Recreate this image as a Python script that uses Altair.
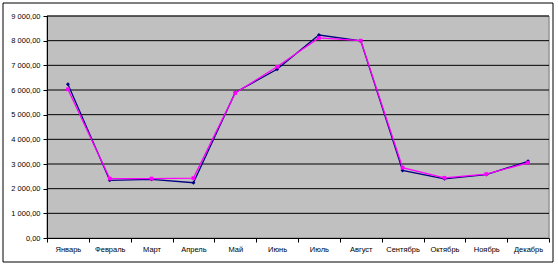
import altair as alt
import pandas as pd

months = ["Январь", "Февраль", "Март", "Апрель", "Май", "Июнь",
          "Июль", "Август", "Сентябрь", "Октябрь", "Ноябрь", "Декабрь"]
series_blue = [6230, 2340, 2380, 2240, 5900, 6840, 8230, 7990, 2740, 2400, 2570, 3110]
series_pink = [6030, 2410, 2410, 2430, 5880, 6940, 8110, 8000, 2850, 2440, 2590, 3050]
y_ticks = [0, 1000, 2000, 3000, 4000, 5000, 6000, 7000, 8000, 9000]

rows = []
for i, m in enumerate(months):
    rows.append({"pos": i + 0.5, "month": m, "series": "A", "value": series_blue[i]})
    rows.append({"pos": i + 0.5, "month": m, "series": "B", "value": series_pink[i]})
df = pd.DataFrame(rows)
grid_df = pd.DataFrame({"g": y_ticks})
one = pd.DataFrame({"k": [1]})

W, H = 502, 222
FONT = "Liberation Sans"
N = len(months)

month_arr = "[" + ",".join("'" + m + "'" for m in months) + ",'']"

xscale = alt.Scale(domain=[0, N], nice=False, zero=False)
yscale = alt.Scale(domain=[0, 9000], nice=False)

xaxis = alt.Axis(values=list(range(N + 1)),
                 labelExpr=month_arr + "[round(datum.value)]",
                 ticks=True, tickSize=4, tickColor="black",
                 grid=False, domain=True, domainColor="black",
                 labelFont=FONT, labelFontSize=7.5, labelColor="black",
                 labelOffset=W / N / 2, labelAlign="center",
                 labelPadding=3, title=None, labelFlush=False, labelOverlap=False, zindex=1)
yaxis = alt.Axis(values=y_ticks,
                 labelExpr="replace(replace(format(datum.value, ',.2f'), ',', ' '), '.', ',')",
                 grid=False,
                 ticks=True, tickSize=4, tickColor="black", domain=True, domainColor="black",
                 labelFont=FONT, labelFontSize=7.5, labelColor="black",
                 labelPadding=3, title=None, zindex=1)

bg = alt.Chart(one).mark_rect(fill="#C0C0C0", stroke="#808080", strokeWidth=1).encode(
    x=alt.value(0), x2=alt.value(W), y=alt.value(0), y2=alt.value(H))

grid = alt.Chart(grid_df).transform_filter(alt.datum.g > 0).mark_rule(color="black", strokeWidth=1).encode(
    y=alt.Y("g:Q", scale=yscale, axis=yaxis))

base = alt.Chart(df)
line_blue = base.transform_filter(alt.datum.series == "A").mark_line(
    color="#000080", strokeWidth=1.3, point=alt.OverlayMarkDef(shape="diamond", size=16, color="#000080", filled=True)
).encode(x=alt.X("pos:Q", scale=xscale, axis=xaxis), y=alt.Y("value:Q", scale=yscale, axis=yaxis))

line_pink = base.transform_filter(alt.datum.series == "B").mark_line(
    color="#FF00FF", strokeWidth=1.3, point=alt.OverlayMarkDef(shape="square", size=14, color="#FF00FF", filled=True)
).encode(x=alt.X("pos:Q", scale=xscale, axis=xaxis), y=alt.Y("value:Q", scale=yscale, axis=yaxis))

frame = alt.Chart(one).mark_rect(fill="transparent", stroke="black", strokeWidth=1, clip=False).encode(
    x=alt.value(-44), x2=alt.value(506), y=alt.value(-13), y2=alt.value(246))

chart = alt.layer(bg, grid, line_blue, line_pink, frame).properties(
    width=W, height=H,
    padding={"left": 47, "top": 16, "right": 9, "bottom": 27},
    autosize=alt.AutoSizeParams(type="none"),
)

chart.save("out.html", embed_options={"renderer": "svg", "actions": False})
